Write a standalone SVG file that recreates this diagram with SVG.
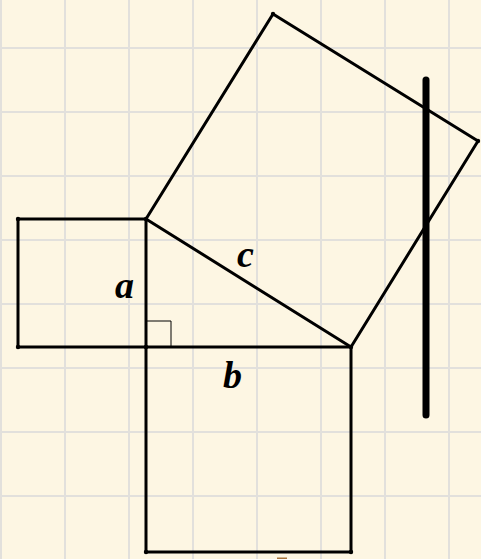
<svg xmlns="http://www.w3.org/2000/svg" width="481" height="559" viewBox="0 0 481 559">
<style>
.grid{stroke:#e2e0dc;stroke-width:2;fill:none}
.edge{stroke:#000;stroke-width:3;fill:none;stroke-linejoin:round;stroke-linecap:round}
.lbl{font-family:"Liberation Serif","Times New Roman",serif;font-style:italic;font-weight:bold;font-size:38px;fill:#000}
.pt{fill:#000}
</style>
<rect x="0" y="0" width="481" height="559" fill="#fdf6e3"/>
<g id="grid" class="grid">
<path d="M1 0V559M65 0V559M129 0V559M193 0V559M257 0V559M321 0V559M385 0V559M449 0V559"/>
<path d="M0 48H481M0 112H481M0 176H481M0 240H481M0 304H481M0 368H481M0 432H481M0 496H481"/>
</g>
<g id="connectors">
<g id="square-a"><polygon class="edge" points="18,219 146,219 146,347 18,347"/></g>
<g id="square-b"><polygon class="edge" points="146,347 351,347 351,552 146,552"/></g>
<g id="square-c"><polygon class="edge" points="146,219 351,347 478,141 273,14"/></g>
<g id="right-angle"><polyline points="146,321 171,321 171,347" fill="none" stroke="#000" stroke-width="1"/></g>
<g id="bar"><line x1="426" y1="80" x2="426" y2="415" stroke="#000" stroke-width="7" stroke-linecap="round"/></g>
</g>
<g id="points">
<circle class="pt" cx="18" cy="219" r="2.2"/>
<circle class="pt" cx="18" cy="347" r="2.2"/>
<circle class="pt" cx="146" cy="219" r="2.2"/>
<circle class="pt" cx="146" cy="347" r="2.2"/>
<circle class="pt" cx="351" cy="347" r="2.2"/>
<circle class="pt" cx="351" cy="552" r="2.2"/>
<circle class="pt" cx="146" cy="552" r="2.2"/>
<circle class="pt" cx="478" cy="141" r="2.2"/>
<circle class="pt" cx="273" cy="14" r="2.2"/>
</g>
<g id="labels">
<text class="lbl" x="115" y="298">a</text>
<text class="lbl" x="237" y="267">c</text>
<text class="lbl" x="223" y="388">b</text>
</g>
<rect x="277" y="557.5" width="10" height="1.5" fill="#a8743c"/>
</svg>
